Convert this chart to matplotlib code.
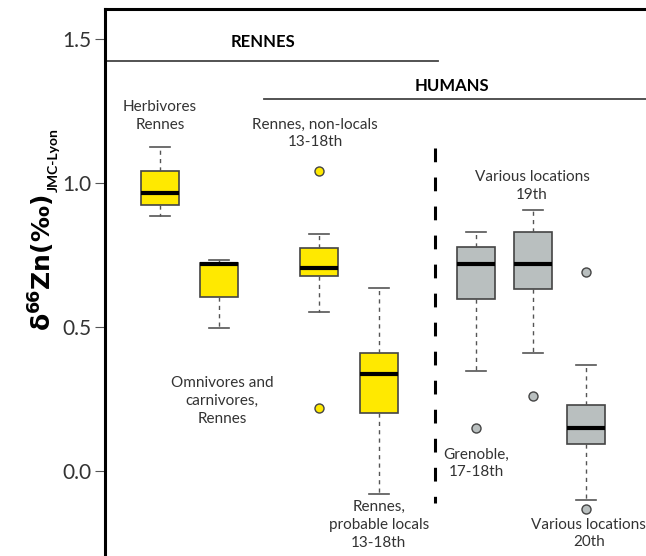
import numpy as np
import matplotlib.pyplot as plt

plt.rcParams['font.family'] = ['Lato', 'DejaVu Sans']

# box statistics
groups = ["Herbivores", "Omnivores", "Non-locals", "Probable locals",
          "Grenoble", "19th", "20th"]
positions = [1.0, 2.0, 3.69, 4.71, 6.36, 7.32, 8.22]
whislo = [0.885, 0.498, 0.552, -0.080, 0.347, 0.409, -0.101]
q1 = [0.924, 0.603, 0.676, 0.203, 0.597, 0.633, 0.093]
med = [0.966, 0.718, 0.706, 0.337, 0.719, 0.719, 0.148]
q3 = [1.042, 0.722, 0.773, 0.409, 0.779, 0.829, 0.228]
whishi = [1.124, 0.732, 0.822, 0.634, 0.830, 0.907, 0.367]
fliers = [[], [], [1.043, 0.219], [], [0.148], [0.259], [0.690, -0.133]]
box_colors = ['#FFE900'] * 4 + ['#B9BFBF'] * 3

labels = ["Herbivores\nRennes", "Omnivores and\ncarnivores,\nRennes",
          "Rennes, non-locals\n13-18th", "Rennes,\nprobable locals\n13-18th",
          "Grenoble,\n17-18th", "Various locations\n19th",
          "Various locations\n20th"]
label_x = [1.0, 2.05, 3.63, 4.71, 6.36, 7.31, 8.27]
label_y = [1.232, 0.243, 1.172, -0.188, 0.026, 0.988, -0.217]

fig = plt.figure(figsize=(6.46, 5.56), dpi=100)
ax = fig.add_axes([0.1625, 0.0, 0.8375, 0.983])

stats = []
for i in range(len(groups)):
    stats.append(dict(med=med[i], q1=q1[i], q3=q3[i], whislo=whislo[i],
                      whishi=whishi[i], fliers=fliers[i], label=groups[i]))

bp = ax.bxp(stats, positions=positions, widths=0.64, patch_artist=True,
            boxprops=dict(edgecolor='#444444', linewidth=1.2),
            medianprops=dict(color='black', linewidth=3),
            whiskerprops=dict(color='#555555', linewidth=1, linestyle=(0, (3, 3))),
            capprops=dict(color='#555555', linewidth=1.2),
            flierprops=dict(marker='o', markersize=6.5, markeredgecolor='#444444',
                            markeredgewidth=1))
for i, box in enumerate(bp['boxes']):
    box.set_facecolor(box_colors[i])
for i, fl in enumerate(bp['fliers']):
    fl.set_markerfacecolor(box_colors[i])
for cap in bp['caps']:
    x = cap.get_xdata()
    c = (x[0] + x[1]) / 2
    cap.set_xdata([c - 0.17, c + 0.17])

for i in range(len(labels)):
    ax.text(label_x[i], label_y[i], labels[i], ha='center', va='center',
            fontsize=11, color='#333333', linespacing=1.35)

# section headers
ax.plot([0.068, 5.72], [1.424, 1.424], color='#444444', lw=1.3, clip_on=False)
ax.text(2.75, 1.49, "RENNES", ha='center', va='center', fontsize=12,
        fontweight='bold', color='black')
ax.plot([2.76, 9.24], [1.29, 1.29], color='#444444', lw=1.3, clip_on=False)
ax.text(5.95, 1.337, "HUMANS", ha='center', va='center', fontsize=12,
        fontweight='bold', color='black')

ax.plot([5.67, 5.67], [1.12, -0.11], color='black', lw=2.2,
        linestyle=(0, (4.5, 5)))

ax.set_xlim(0.068, 9.24)
ax.set_ylim(-0.295, 1.602)
ax.set_xticks([])
ax.set_yticks([0.0, 0.5, 1.0, 1.5])
ax.set_yticklabels(["0.0", "0.5", "1.0", "1.5"], fontsize=15, color='#333333')
ax.tick_params(axis='y', length=7, width=0.8, color='#555555', pad=3)
for s in ['bottom', 'right']:
    ax.spines[s].set_visible(False)
ax.spines['left'].set_linewidth(2.2)
ax.spines['top'].set_linewidth(2.2)

# y label: main part and small subscript
fig.text(52 / 646, 1 - 331 / 556, r'$\mathbf{\delta^{66}}$Zn(‰)', rotation=90,
         rotation_mode='anchor', ha='left', va='baseline', fontsize=18,
         fontweight='bold', family='DejaVu Sans', color='black')
fig.text(58 / 646, 1 - 192 / 556, 'JMC-Lyon', rotation=90,
         rotation_mode='anchor', ha='left', va='baseline', fontsize=10,
         fontweight='bold', color='black')

fig.savefig("out.png", dpi=100)
